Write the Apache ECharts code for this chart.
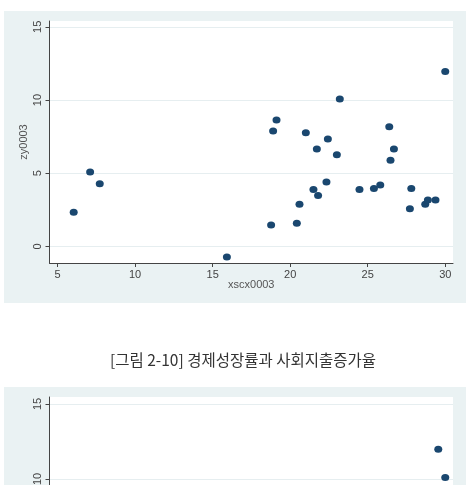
<!DOCTYPE html>
<html>
<head>
<meta charset="utf-8">
<script src="https://cdn.jsdelivr.net/npm/echarts@6/dist/echarts.min.js"></script>
<style>
  html, body { margin: 0; padding: 0; background: #fff; overflow: hidden; }
  #page { position: relative; width: 472px; height: 485px; overflow: hidden; }
  #chart1 { position: absolute; left: 0; top: 0; width: 472px; height: 387px; }
  #chart2 { position: absolute; left: 0; top: 387px; width: 472px; height: 292px; }
</style>
</head>
<body>
<div id="page">
  <div id="chart1"></div>
  <div id="chart2"></div>
</div>
<script>
// 위쪽 산점도 (xscx0003 vs zy0003)
var xscx = [6.04, 7.1, 7.72, 15.92, 18.77, 18.9, 19.12, 20.43, 20.6, 21.01, 21.5, 21.72, 21.8, 22.34, 22.43,
  23.01, 23.2, 24.47, 25.4, 25.81, 26.39, 26.47, 26.69, 27.72, 27.81, 28.71, 28.88, 29.37, 30.0];
var zy = [2.34, 5.08, 4.28, -0.72, 1.47, 7.89, 8.64, 1.59, 2.89, 7.77, 3.89, 6.66, 3.48, 4.4, 7.34,
  6.27, 10.08, 3.89, 3.96, 4.19, 8.18, 5.88, 6.66, 2.57, 3.96, 2.89, 3.18, 3.18, 11.95];
// 아래쪽 그림 (잘린 부분에 보이는 점만)
var x2 = [29.55, 30.0];
var y2 = [11.98, 10.1];

var xTicks = [5, 10, 15, 20, 25, 30];
var yTicks = [0, 5, 10, 15];
var caption = '[그림 2-10] 경제성장률과 사회지출증가율';

var navy = '#1a476f';
var font = '"Liberation Sans", Arial, sans-serif';

function pairs(xs, ys) {
  return xs.map(function (v, i) { return [v, ys[i]]; });
}

function xAxisOpt(name) {
  return {
    type: 'value',
    min: 4.48,
    max: 30.5,
    name: name,
    nameLocation: 'middle',
    nameGap: 16,
    nameMoveOverlap: false,
    nameTextStyle: { color: '#555', fontSize: 11, fontFamily: font },
    axisLine: { onZero: false, lineStyle: { color: '#444', width: 1 } },
    axisTick: { show: true, length: 4, lineStyle: { color: '#444' }, customValues: xTicks },
    axisLabel: { color: '#444', fontSize: 11, fontFamily: font, margin: 6, customValues: xTicks },
    splitLine: { show: false }
  };
}

function yAxisOpt(name, min, max) {
  return {
    type: 'value',
    min: min,
    max: max,
    name: name,
    nameLocation: 'middle',
    nameGap: 20,
    nameMoveOverlap: false,
    nameTextStyle: { color: '#555', fontSize: 11, fontFamily: font },
    axisLine: { onZero: false, lineStyle: { color: '#444', width: 1 } },
    axisTick: { show: true, length: 4, lineStyle: { color: '#444' }, customValues: yTicks },
    axisLabel: { color: '#444', fontSize: 11, fontFamily: font, rotate: 90, margin: 6, customValues: yTicks },
    splitLine: { show: true, lineStyle: { color: '#e6eef0', width: 1 } }
  };
}

function scatterSeries(data) {
  return {
    type: 'scatter',
    symbol: 'circle',
    symbolSize: [8, 7],
    itemStyle: { color: navy, opacity: 1 },
    data: data
  };
}

var chart1 = echarts.init(document.getElementById('chart1'));
chart1.setOption({
  backgroundColor: '#fff',
  animation: false,
  graphic: [
    { type: 'rect', z: -10, silent: true, shape: { x: 4, y: 11, width: 462, height: 292 }, style: { fill: '#eaf2f3' } },
    {
      type: 'text', left: 110, top: 352,
      style: { text: caption, fill: '#333', fontSize: 15.5, fontFamily: '"Noto Sans CJK KR", sans-serif' }
    }
  ],
  grid: { left: 49.5, top: 21, width: 403.5, height: 242, show: true, backgroundColor: '#fff', borderWidth: 0 },
  xAxis: xAxisOpt('xscx0003'),
  yAxis: yAxisOpt('zy0003', -1.13, 15.4),
  series: [scatterSeries(pairs(xscx, zy))]
});

// 아래쪽 그림은 페이지 하단에서 잘려 있음
var chart2 = echarts.init(document.getElementById('chart2'));
chart2.setOption({
  backgroundColor: '#fff',
  animation: false,
  graphic: [
    { type: 'rect', z: -10, silent: true, shape: { x: 4, y: 0, width: 462, height: 292 }, style: { fill: '#eaf2f3' } }
  ],
  grid: { left: 49.5, top: 10, width: 403.5, height: 242, show: true, backgroundColor: '#fff', borderWidth: 0 },
  xAxis: xAxisOpt(''),
  yAxis: yAxisOpt('', -0.667, 15.467),
  series: [scatterSeries(pairs(x2, y2))]
});
</script>
</body>
</html>
